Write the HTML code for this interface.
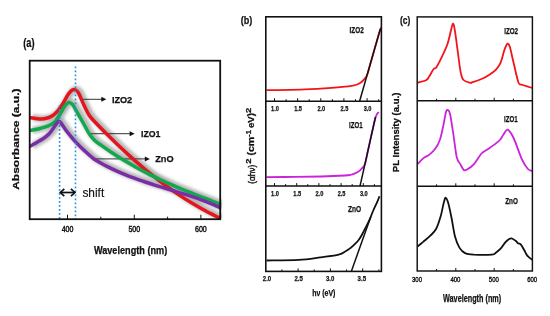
<!DOCTYPE html>
<html><head><meta charset="utf-8"><style>
html,body{margin:0;padding:0;background:#fff;}
body{width:550px;height:316px;overflow:hidden;}
svg{display:block;font-family:"Liberation Sans",sans-serif;}
text{opacity:0.999;}
</style></head><body>
<svg width="550" height="316" viewBox="0 0 550 316">
<rect width="550" height="316" fill="#fff"/>
<defs><filter id="sh" x="-20%" y="-20%" width="140%" height="140%"><feGaussianBlur stdDeviation="1.5"/></filter><clipPath id="ca"><rect x="29.7" y="60.7" width="190.5" height="158.3"/></clipPath></defs>
<g clip-path="url(#ca)" filter="url(#sh)" fill="none" stroke="#a8a8a8" stroke-opacity="0.8" stroke-width="7" stroke-linejoin="round" transform="translate(2,-0.3)">
<path d="M30.5,117.7 C32.2,117.9 37.7,119.0 40.7,119.0 C43.7,119.0 46.2,118.3 48.3,117.7 C50.4,117.1 51.6,116.5 53.3,115.2 C55.0,113.9 56.8,112.0 58.4,110.1 C60.0,108.1 61.5,106.0 63.0,103.5 C64.5,101.0 66.4,97.3 67.7,95.2 C69.0,93.1 70.0,92.0 71.0,91.0 C72.0,90.0 73.0,89.5 74.0,89.5 C75.0,89.5 76.2,90.3 77.0,91.0 C77.8,91.7 77.8,91.5 79.0,93.9 C80.2,96.3 82.3,101.7 84.0,105.2 C85.7,108.7 87.2,112.2 89.0,115.0 C90.8,117.8 92.0,118.8 95.0,122.0 C98.0,125.2 103.0,130.3 107.0,134.3 C111.0,138.3 115.0,142.2 119.0,146.0 C123.0,149.8 127.0,153.5 131.0,157.1 C135.0,160.7 139.0,164.2 143.0,167.6 C147.0,171.0 151.0,174.2 155.0,177.4 C159.0,180.6 163.0,183.6 167.0,186.5 C171.0,189.4 175.0,192.2 179.0,194.9 C183.0,197.6 187.0,200.2 191.0,202.6 C195.0,205.0 199.0,207.3 203.0,209.5 C207.0,211.7 212.1,214.2 215.0,215.7 C217.9,217.2 219.6,217.9 220.5,218.3"/>
<path d="M30.5,130.5 C31.9,130.2 36.8,129.4 39.1,128.8 C41.5,128.2 42.8,127.8 44.6,127.2 C46.4,126.6 48.3,125.9 50.1,125.0 C51.9,124.1 54.0,122.7 55.2,121.6 C56.4,120.5 56.6,119.7 57.5,118.3 C58.4,116.9 59.5,115.0 60.7,113.0 C61.9,111.0 63.4,108.1 64.5,106.4 C65.6,104.8 66.5,103.7 67.4,103.1 C68.3,102.5 68.9,102.4 69.8,102.6 C70.7,102.8 71.6,103.2 72.6,104.5 C73.6,105.8 74.7,108.2 75.9,110.2 C77.1,112.2 78.4,114.6 79.7,116.8 C81.0,119.0 82.4,121.5 83.5,123.5 C84.6,125.5 85.5,127.2 86.5,129.0 C87.5,130.8 88.4,132.6 89.7,134.5 C91.0,136.4 92.9,138.6 94.5,140.2 C96.1,141.8 98.3,143.3 99.2,144.0 C100.1,144.7 97.9,142.9 100.0,144.3 C102.1,145.8 108.0,150.0 112.0,152.7 C116.0,155.4 120.0,157.9 124.0,160.3 C128.0,162.7 132.0,165.0 136.0,167.2 C140.0,169.4 144.0,171.5 148.0,173.6 C152.0,175.7 156.0,177.6 160.0,179.5 C164.0,181.4 168.0,183.2 172.0,184.9 C176.0,186.7 180.0,188.3 184.0,190.0 C188.0,191.7 192.0,193.2 196.0,194.8 C200.0,196.4 203.9,197.9 208.0,199.5 C212.1,201.1 218.4,203.6 220.5,204.4"/>
<path d="M30.5,146.0 C31.2,145.6 33.2,144.6 34.6,143.8 C36.0,143.0 37.4,142.0 39.1,141.0 C40.8,140.0 42.8,139.1 44.6,137.7 C46.4,136.3 48.5,134.4 50.1,132.7 C51.7,130.9 52.8,128.9 54.0,127.2 C55.2,125.5 56.5,123.7 57.3,122.7 C58.1,121.7 58.4,121.3 59.0,121.3 C59.6,121.3 60.1,121.7 60.8,122.6 C61.5,123.5 62.2,124.9 63.4,126.6 C64.6,128.3 65.9,130.3 68.0,132.9 C70.1,135.5 73.2,139.3 75.8,142.2 C78.4,145.1 80.8,147.3 83.8,150.1 C86.8,152.9 90.3,156.4 94.0,159.0 C97.7,161.6 102.0,163.8 106.0,165.9 C110.0,168.0 114.0,169.9 118.0,171.7 C122.0,173.5 126.0,175.1 130.0,176.6 C134.0,178.1 138.0,179.5 142.0,180.9 C146.0,182.3 150.0,183.5 154.0,184.8 C158.0,186.1 162.0,187.3 166.0,188.5 C170.0,189.7 174.0,190.9 178.0,192.1 C182.0,193.3 186.0,194.6 190.0,195.9 C194.0,197.2 198.0,198.6 202.0,200.1 C206.0,201.6 210.9,203.6 214.0,204.9 C217.1,206.2 219.4,207.3 220.5,207.8"/>
</g>
<g stroke="#333" stroke-width="1">
<line x1="80.5" y1="99.3" x2="103" y2="99.3"/>
<line x1="88" y1="133.7" x2="131" y2="133.7"/>
<line x1="94" y1="158.9" x2="146" y2="158.9"/>
</g>
<g clip-path="url(#ca)" fill="none" stroke-width="3.5" stroke-linejoin="round" stroke-linecap="round">
<path stroke="#e5151d" d="M30.5,117.7 C32.2,117.9 37.7,119.0 40.7,119.0 C43.7,119.0 46.2,118.3 48.3,117.7 C50.4,117.1 51.6,116.5 53.3,115.2 C55.0,113.9 56.8,112.0 58.4,110.1 C60.0,108.1 61.5,106.0 63.0,103.5 C64.5,101.0 66.4,97.3 67.7,95.2 C69.0,93.1 70.0,92.0 71.0,91.0 C72.0,90.0 73.0,89.5 74.0,89.5 C75.0,89.5 76.2,90.3 77.0,91.0 C77.8,91.7 77.8,91.5 79.0,93.9 C80.2,96.3 82.3,101.7 84.0,105.2 C85.7,108.7 87.2,112.2 89.0,115.0 C90.8,117.8 92.0,118.8 95.0,122.0 C98.0,125.2 103.0,130.3 107.0,134.3 C111.0,138.3 115.0,142.2 119.0,146.0 C123.0,149.8 127.0,153.5 131.0,157.1 C135.0,160.7 139.0,164.2 143.0,167.6 C147.0,171.0 151.0,174.2 155.0,177.4 C159.0,180.6 163.0,183.6 167.0,186.5 C171.0,189.4 175.0,192.2 179.0,194.9 C183.0,197.6 187.0,200.2 191.0,202.6 C195.0,205.0 199.0,207.3 203.0,209.5 C207.0,211.7 212.1,214.2 215.0,215.7 C217.9,217.2 219.6,217.9 220.5,218.3"/>
<path stroke="#12a84e" d="M30.5,130.5 C31.9,130.2 36.8,129.4 39.1,128.8 C41.5,128.2 42.8,127.8 44.6,127.2 C46.4,126.6 48.3,125.9 50.1,125.0 C51.9,124.1 54.0,122.7 55.2,121.6 C56.4,120.5 56.6,119.7 57.5,118.3 C58.4,116.9 59.5,115.0 60.7,113.0 C61.9,111.0 63.4,108.1 64.5,106.4 C65.6,104.8 66.5,103.7 67.4,103.1 C68.3,102.5 68.9,102.4 69.8,102.6 C70.7,102.8 71.6,103.2 72.6,104.5 C73.6,105.8 74.7,108.2 75.9,110.2 C77.1,112.2 78.4,114.6 79.7,116.8 C81.0,119.0 82.4,121.5 83.5,123.5 C84.6,125.5 85.5,127.2 86.5,129.0 C87.5,130.8 88.4,132.6 89.7,134.5 C91.0,136.4 92.9,138.6 94.5,140.2 C96.1,141.8 98.3,143.3 99.2,144.0 C100.1,144.7 97.9,142.9 100.0,144.3 C102.1,145.8 108.0,150.0 112.0,152.7 C116.0,155.4 120.0,157.9 124.0,160.3 C128.0,162.7 132.0,165.0 136.0,167.2 C140.0,169.4 144.0,171.5 148.0,173.6 C152.0,175.7 156.0,177.6 160.0,179.5 C164.0,181.4 168.0,183.2 172.0,184.9 C176.0,186.7 180.0,188.3 184.0,190.0 C188.0,191.7 192.0,193.2 196.0,194.8 C200.0,196.4 203.9,197.9 208.0,199.5 C212.1,201.1 218.4,203.6 220.5,204.4"/>
<path stroke="#7a2ea6" d="M30.5,146.0 C31.2,145.6 33.2,144.6 34.6,143.8 C36.0,143.0 37.4,142.0 39.1,141.0 C40.8,140.0 42.8,139.1 44.6,137.7 C46.4,136.3 48.5,134.4 50.1,132.7 C51.7,130.9 52.8,128.9 54.0,127.2 C55.2,125.5 56.5,123.7 57.3,122.7 C58.1,121.7 58.4,121.3 59.0,121.3 C59.6,121.3 60.1,121.7 60.8,122.6 C61.5,123.5 62.2,124.9 63.4,126.6 C64.6,128.3 65.9,130.3 68.0,132.9 C70.1,135.5 73.2,139.3 75.8,142.2 C78.4,145.1 80.8,147.3 83.8,150.1 C86.8,152.9 90.3,156.4 94.0,159.0 C97.7,161.6 102.0,163.8 106.0,165.9 C110.0,168.0 114.0,169.9 118.0,171.7 C122.0,173.5 126.0,175.1 130.0,176.6 C134.0,178.1 138.0,179.5 142.0,180.9 C146.0,182.3 150.0,183.5 154.0,184.8 C158.0,186.1 162.0,187.3 166.0,188.5 C170.0,189.7 174.0,190.9 178.0,192.1 C182.0,193.3 186.0,194.6 190.0,195.9 C194.0,197.2 198.0,198.6 202.0,200.1 C206.0,201.6 210.9,203.6 214.0,204.9 C217.1,206.2 219.4,207.3 220.5,207.8"/>
</g>
<g stroke="#1f8fe0" stroke-width="1.6" stroke-dasharray="1.8 2.2">
<line x1="59.6" y1="105" x2="59.6" y2="219"/><line x1="75.5" y1="66.5" x2="75.5" y2="219"/>
</g>
<rect x="29.7" y="60.7" width="190.5" height="158.5" fill="none" stroke="#111" stroke-width="1.8"/>
<g stroke="#111" stroke-width="1">
<line x1="67.5" y1="219.2" x2="67.5" y2="214.7"/>
<line x1="100.8" y1="219.2" x2="100.8" y2="216.7"/>
<line x1="134.3" y1="219.2" x2="134.3" y2="214.7"/>
<line x1="167.6" y1="219.2" x2="167.6" y2="216.7"/>
<line x1="200.9" y1="219.2" x2="200.9" y2="214.7"/>
</g>
<g fill="#111">
<path d="M106.3,99.3 L101.3,96.8 L101.3,101.8Z"/>
<path d="M134.6,133.7 L129.6,131.2 L129.6,136.2Z"/>
<path d="M149.8,158.9 L144.8,156.4 L144.8,161.4Z"/>
</g>
<g stroke="#111" stroke-width="1.7" fill="none"><line x1="60.5" y1="192.5" x2="74.5" y2="192.5"/><path d="M64.3,188.8 L60.3,192.5 L64.3,196.2"/><path d="M70.9,188.8 L74.9,192.5 L70.9,196.2"/></g>
<g fill="#111" stroke="#111" stroke-width="0.25" style="font-family:'Liberation Sans',sans-serif">
<text x="111.9" y="102.6" font-size="9.9" font-weight="bold" text-anchor="start" textLength="20.3" lengthAdjust="spacingAndGlyphs" >IZO2</text>
<text x="141.0" y="136.6" font-size="9.5" font-weight="bold" text-anchor="start" textLength="19.5" lengthAdjust="spacingAndGlyphs" >IZO1</text>
<text x="155.2" y="161.9" font-size="9.7" font-weight="bold" text-anchor="start" textLength="18.4" lengthAdjust="spacingAndGlyphs" >ZnO</text>
<text x="82.4" y="196.5" font-size="13.5" font-weight="normal" text-anchor="start" textLength="21.8" lengthAdjust="spacingAndGlyphs" stroke-width="0.15">shift</text>
<text x="23.2" y="47.0" font-size="12.2" font-weight="bold" text-anchor="start" textLength="11.3" lengthAdjust="spacingAndGlyphs" >(a)</text>
<text x="67.6" y="231.8" font-size="8.6" font-weight="normal" text-anchor="middle" textLength="11.8" lengthAdjust="spacingAndGlyphs" stroke-width="0.45">400</text>
<text x="134.3" y="231.8" font-size="8.6" font-weight="normal" text-anchor="middle" textLength="11.8" lengthAdjust="spacingAndGlyphs" stroke-width="0.45">500</text>
<text x="200.9" y="231.8" font-size="8.6" font-weight="normal" text-anchor="middle" textLength="11.8" lengthAdjust="spacingAndGlyphs" stroke-width="0.45">600</text>
<text x="93.9" y="253.6" font-size="10.8" font-weight="bold" text-anchor="start" textLength="73.3" lengthAdjust="spacingAndGlyphs" >Wavelength (nm)</text>
<text transform="translate(19.2,189.8) rotate(-90)" font-size="8.6" font-weight="bold" textLength="101.3" lengthAdjust="spacingAndGlyphs">Absorbance (a.u.)</text>
</g>
<g fill="none" stroke-linejoin="round" stroke-width="1.8">
<path stroke="#f2141a" d="M266.5,90.2 C272.1,90.1 290.3,90.0 300.0,89.7 C309.7,89.4 317.1,88.9 324.6,88.4 C332.1,87.9 340.4,87.1 345.0,86.6 C349.6,86.1 350.5,85.9 352.5,85.6 C354.5,85.2 355.6,85.1 357.0,84.5 C358.4,83.9 360.1,83.0 361.2,82.2 C362.3,81.4 362.8,80.8 363.8,79.6 C364.8,78.4 366.1,77.4 367.1,75.0 C368.1,72.6 368.8,69.2 370.0,65.0 C371.2,60.8 372.9,55.0 374.3,50.0 C375.7,45.0 377.6,38.5 378.6,35.0 C379.7,31.5 380.2,30.3 380.6,29.0 C381.1,27.7 381.2,27.5 381.3,27.2"/>
<path stroke="#cc22dd" d="M266.5,177.2 C271.2,177.1 285.8,177.0 295.0,176.9 C304.2,176.8 313.2,176.7 321.5,176.5 C329.8,176.3 340.0,175.8 345.0,175.5 C350.0,175.2 349.7,174.9 351.4,174.6 C353.1,174.2 353.8,173.9 355.0,173.4 C356.2,172.9 357.4,172.3 358.5,171.6 C359.6,170.9 360.2,170.3 361.3,169.0 C362.4,167.7 363.9,167.2 365.0,164.0 C366.1,160.8 366.9,155.3 368.1,150.0 C369.3,144.7 370.9,137.2 372.1,132.0 C373.3,126.8 374.3,121.9 375.1,119.0 C375.9,116.1 376.2,115.7 376.8,114.5 C377.4,113.3 378.4,112.4 378.7,112.0"/>
<path stroke="#111" d="M266.5,260.5 C271.9,260.4 289.7,260.4 298.7,259.9 C307.7,259.4 313.8,258.2 320.5,257.3 C327.2,256.4 334.4,255.7 338.7,254.6 C342.9,253.5 344.0,252.1 346.0,251.0 C348.0,249.9 349.3,248.9 350.8,247.8 C352.3,246.7 353.5,245.5 354.8,244.2 C356.1,242.9 357.6,241.5 358.8,239.8 C360.0,238.1 361.1,236.2 362.2,234.2 C363.3,232.2 364.4,230.1 365.6,227.7 C366.8,225.3 368.3,222.5 369.6,219.6 C370.9,216.7 372.1,213.1 373.5,210.0 C374.9,206.9 376.7,203.1 377.7,200.8 C378.7,198.5 379.2,197.0 379.5,196.2"/>
</g>
<g stroke="#111" stroke-width="1.5">
<line x1="359.6" y1="101.2" x2="380.4" y2="28.6"/>
<line x1="360" y1="186.1" x2="375.5" y2="117"/>
<line x1="351.3" y1="271.4" x2="370.8" y2="216.8"/>
</g>
<rect x="265.8" y="16.8" width="115.6" height="254.6" fill="none" stroke="#111" stroke-width="1.6"/>
<line x1="265.8" y1="101.2" x2="381.4" y2="101.2" stroke="#111" stroke-width="1.5"/>
<line x1="265.8" y1="186.1" x2="381.4" y2="186.1" stroke="#111" stroke-width="1.5"/>
<g stroke="#111" stroke-width="1">
<line x1="274.5" y1="101.2" x2="274.5" y2="98.2"/>
<line x1="286.1" y1="101.2" x2="286.1" y2="99.2"/>
<line x1="297.6" y1="101.2" x2="297.6" y2="98.2"/>
<line x1="309.2" y1="101.2" x2="309.2" y2="99.2"/>
<line x1="320.8" y1="101.2" x2="320.8" y2="98.2"/>
<line x1="332.4" y1="101.2" x2="332.4" y2="99.2"/>
<line x1="343.9" y1="101.2" x2="343.9" y2="98.2"/>
<line x1="355.5" y1="101.2" x2="355.5" y2="99.2"/>
<line x1="367.1" y1="101.2" x2="367.1" y2="98.2"/>
<line x1="378.7" y1="101.2" x2="378.7" y2="99.2"/>
<line x1="274.5" y1="186.1" x2="274.5" y2="183.1"/>
<line x1="285.6" y1="186.1" x2="285.6" y2="184.1"/>
<line x1="296.7" y1="186.1" x2="296.7" y2="183.1"/>
<line x1="307.8" y1="186.1" x2="307.8" y2="184.1"/>
<line x1="318.9" y1="186.1" x2="318.9" y2="183.1"/>
<line x1="330.0" y1="186.1" x2="330.0" y2="184.1"/>
<line x1="341.1" y1="186.1" x2="341.1" y2="183.1"/>
<line x1="352.2" y1="186.1" x2="352.2" y2="184.1"/>
<line x1="363.3" y1="186.1" x2="363.3" y2="183.1"/>
<line x1="374.4" y1="186.1" x2="374.4" y2="184.1"/>
<line x1="281.9" y1="271.4" x2="281.9" y2="269.4"/>
<line x1="298.1" y1="271.4" x2="298.1" y2="268.4"/>
<line x1="314.2" y1="271.4" x2="314.2" y2="269.4"/>
<line x1="330.4" y1="271.4" x2="330.4" y2="268.4"/>
<line x1="346.6" y1="271.4" x2="346.6" y2="269.4"/>
<line x1="362.7" y1="271.4" x2="362.7" y2="268.4"/>
<line x1="378.9" y1="271.4" x2="378.9" y2="269.4"/>
</g>
<g fill="#111" stroke="#111" stroke-width="0.25" style="font-family:'Liberation Sans',sans-serif">
<text x="240.8" y="24.3" font-size="11.8" font-weight="bold" text-anchor="start" textLength="11.6" lengthAdjust="spacingAndGlyphs" >(b)</text>
<text x="275.0" y="110.6" font-size="7.2" font-weight="bold" text-anchor="middle" textLength="7.8" lengthAdjust="spacingAndGlyphs" >1.0</text>
<text x="275.0" y="195.6" font-size="7.2" font-weight="bold" text-anchor="middle" textLength="7.8" lengthAdjust="spacingAndGlyphs" >1.0</text>
<text x="298.1" y="110.6" font-size="7.2" font-weight="bold" text-anchor="middle" textLength="7.8" lengthAdjust="spacingAndGlyphs" >1.5</text>
<text x="297.2" y="195.6" font-size="7.2" font-weight="bold" text-anchor="middle" textLength="7.8" lengthAdjust="spacingAndGlyphs" >1.5</text>
<text x="321.3" y="110.6" font-size="7.2" font-weight="bold" text-anchor="middle" textLength="7.8" lengthAdjust="spacingAndGlyphs" >2.0</text>
<text x="319.4" y="195.6" font-size="7.2" font-weight="bold" text-anchor="middle" textLength="7.8" lengthAdjust="spacingAndGlyphs" >2.0</text>
<text x="344.4" y="110.6" font-size="7.2" font-weight="bold" text-anchor="middle" textLength="7.8" lengthAdjust="spacingAndGlyphs" >2.5</text>
<text x="341.6" y="195.6" font-size="7.2" font-weight="bold" text-anchor="middle" textLength="7.8" lengthAdjust="spacingAndGlyphs" >2.5</text>
<text x="367.6" y="110.6" font-size="7.2" font-weight="bold" text-anchor="middle" textLength="7.8" lengthAdjust="spacingAndGlyphs" >3.0</text>
<text x="363.8" y="195.6" font-size="7.2" font-weight="bold" text-anchor="middle" textLength="7.8" lengthAdjust="spacingAndGlyphs" >3.0</text>
<text x="267.0" y="281.0" font-size="7.6" font-weight="bold" text-anchor="middle" textLength="8.4" lengthAdjust="spacingAndGlyphs" >2.0</text>
<text x="298.6" y="281.0" font-size="7.6" font-weight="bold" text-anchor="middle" textLength="8.4" lengthAdjust="spacingAndGlyphs" >2.5</text>
<text x="330.2" y="281.0" font-size="7.6" font-weight="bold" text-anchor="middle" textLength="8.4" lengthAdjust="spacingAndGlyphs" >3.0</text>
<text x="361.8" y="281.0" font-size="7.6" font-weight="bold" text-anchor="middle" textLength="8.4" lengthAdjust="spacingAndGlyphs" >3.5</text>
<text x="349.5" y="33.3" font-size="8.8" font-weight="bold" text-anchor="start" textLength="14.2" lengthAdjust="spacingAndGlyphs" >IZO2</text>
<text x="349.0" y="128.4" font-size="8.8" font-weight="bold" text-anchor="start" textLength="13.6" lengthAdjust="spacingAndGlyphs" >IZO1</text>
<text x="348.0" y="212.0" font-size="8.8" font-weight="bold" text-anchor="start" textLength="13.2" lengthAdjust="spacingAndGlyphs" >ZnO</text>
<text x="312.2" y="295.5" font-size="8.8" font-weight="bold" textLength="23.2" lengthAdjust="spacingAndGlyphs">h&#957; (eV)</text>
<g transform="translate(254.3,183.8) rotate(-90)">
<text x="0" y="0.4" font-size="9" font-weight="normal" stroke-width="0.4" textLength="19" lengthAdjust="spacingAndGlyphs">(&#945;h&#957;)</text>
<text x="20" y="-3" font-size="7.8" font-weight="bold" textLength="5.3" lengthAdjust="spacingAndGlyphs">2</text>
<text x="28.2" y="0" font-size="8.6" font-weight="bold" textLength="18.8" lengthAdjust="spacingAndGlyphs">(cm</text>
<text x="46.9" y="-3.6" font-size="7" font-weight="bold" textLength="6.9" lengthAdjust="spacingAndGlyphs">-1</text>
<text x="55.8" y="0" font-size="8.6" font-weight="bold" textLength="15" lengthAdjust="spacingAndGlyphs">eV)</text>
<text x="70.9" y="-3" font-size="7.8" font-weight="bold" textLength="5.2" lengthAdjust="spacingAndGlyphs">2</text>
</g>
</g>
<g fill="none" stroke-linejoin="round" stroke-width="1.8">
<path stroke="#f2141a" d="M417.3,82.8 C418.8,82.3 424.4,81.1 426.4,80.0 C428.4,78.9 428.1,78.1 429.3,76.3 C430.5,74.5 432.3,70.7 433.5,69.2 C434.7,67.7 435.0,69.4 436.4,67.2 C437.8,65.0 440.2,60.2 442.1,56.3 C444.0,52.4 446.1,48.0 447.5,44.0 C448.9,40.0 449.7,35.5 450.6,32.1 C451.5,28.7 452.2,23.8 452.9,23.6 C453.6,23.4 454.1,26.0 454.9,30.7 C455.7,35.4 456.9,45.1 457.8,52.0 C458.8,58.9 459.7,67.3 460.6,72.0 C461.6,76.7 461.8,78.2 463.5,80.0 C465.2,81.8 469.2,82.4 470.6,82.8 C472.0,83.2 470.2,82.9 472.0,82.3 C473.8,81.7 478.7,80.2 481.5,79.0 C484.3,77.8 486.2,76.7 488.6,75.2 C491.0,73.7 493.8,72.0 495.8,69.9 C497.8,67.8 499.1,66.0 500.5,62.8 C501.9,59.6 503.1,53.9 504.1,50.9 C505.1,47.9 505.8,46.2 506.5,45.0 C507.2,43.8 507.5,43.4 508.1,43.8 C508.7,44.2 509.1,44.1 510.0,47.3 C510.9,50.5 512.2,57.0 513.6,62.8 C515.0,68.6 517.0,78.6 518.4,82.3 C519.8,86.0 520.1,83.9 521.9,84.7 C523.7,85.5 527.4,86.5 529.1,87.0 C530.8,87.5 531.7,87.7 532.2,87.8"/>
<path stroke="#cc22dd" d="M417.5,164.1 C418.5,163.1 421.5,159.7 423.5,158.1 C425.5,156.5 427.4,156.2 429.4,154.6 C431.4,153.0 433.6,151.2 435.4,148.6 C437.2,146.0 438.7,143.3 440.1,139.2 C441.5,135.0 442.7,128.2 443.7,123.7 C444.7,119.2 445.3,114.2 446.0,111.9 C446.7,109.6 447.2,109.6 447.9,110.0 C448.6,110.4 449.2,110.3 450.1,114.2 C451.0,118.1 452.1,126.1 453.2,133.2 C454.3,140.3 455.5,151.8 456.7,157.0 C457.9,162.2 459.1,161.9 460.3,164.1 C461.5,166.3 462.6,169.1 463.8,170.0 C465.0,170.9 465.7,170.3 467.4,169.3 C469.1,168.3 471.6,166.7 474.0,164.1 C476.4,161.5 479.1,156.1 481.5,153.5 C483.9,150.9 485.8,150.7 488.6,148.7 C491.4,146.7 496.2,143.2 498.2,141.6 C500.2,140.0 499.6,140.4 500.5,139.2 C501.4,138.0 502.3,136.1 503.5,134.5 C504.7,132.9 506.0,129.1 507.7,129.7 C509.4,130.3 511.2,133.1 513.6,138.0 C516.0,142.9 519.5,154.2 521.9,159.4 C524.3,164.6 526.2,167.1 527.9,169.0 C529.6,170.9 531.5,170.6 532.2,170.9"/>
<path stroke="#111" d="M417.5,246.5 C418.4,245.8 420.7,243.9 422.9,242.1 C425.1,240.2 428.4,237.6 430.6,235.4 C432.8,233.2 434.5,231.9 436.2,228.8 C437.9,225.7 439.3,221.0 440.6,216.6 C441.9,212.2 443.0,205.3 443.9,202.2 C444.8,199.1 445.0,197.6 445.7,197.8 C446.4,198.0 447.3,199.8 448.3,203.3 C449.3,206.8 450.6,213.3 451.7,218.8 C452.8,224.3 453.7,231.7 455.0,236.5 C456.3,241.3 457.7,244.8 459.4,247.6 C461.1,250.4 462.6,251.9 465.0,253.1 C467.4,254.3 469.5,254.4 474.0,254.7 C478.5,254.9 488.3,254.9 491.9,254.6 C495.5,254.3 494.4,253.7 495.8,252.7 C497.2,251.7 499.0,250.4 500.6,248.7 C502.2,247.0 504.0,243.9 505.3,242.4 C506.6,240.9 507.4,240.2 508.5,239.5 C509.6,238.8 510.4,238.2 511.6,238.4 C512.8,238.6 514.5,240.0 515.6,240.8 C516.7,241.6 517.1,242.5 518.0,243.2 C518.9,243.9 520.1,243.6 521.1,244.8 C522.1,246.0 523.2,248.5 524.3,250.3 C525.4,252.2 526.2,254.3 527.5,255.9 C528.8,257.5 531.4,259.2 532.2,259.8"/>
</g>
<rect x="417.2" y="16.9" width="115.2" height="254.1" fill="none" stroke="#111" stroke-width="1.45"/>
<line x1="417.2" y1="100.7" x2="532.4" y2="100.7" stroke="#111" stroke-width="1.5"/>
<line x1="417.2" y1="186.3" x2="532.4" y2="186.3" stroke="#111" stroke-width="1.5"/>
<g stroke="#111" stroke-width="1">
<line x1="436.6" y1="100.7" x2="436.6" y2="98.7"/>
<line x1="455.8" y1="100.7" x2="455.8" y2="97.7"/>
<line x1="475.0" y1="100.7" x2="475.0" y2="98.7"/>
<line x1="494.2" y1="100.7" x2="494.2" y2="97.7"/>
<line x1="513.4" y1="100.7" x2="513.4" y2="98.7"/>
<line x1="436.6" y1="186.3" x2="436.6" y2="184.3"/>
<line x1="455.8" y1="186.3" x2="455.8" y2="183.3"/>
<line x1="475.0" y1="186.3" x2="475.0" y2="184.3"/>
<line x1="494.2" y1="186.3" x2="494.2" y2="183.3"/>
<line x1="513.4" y1="186.3" x2="513.4" y2="184.3"/>
<line x1="436.6" y1="271.0" x2="436.6" y2="269.0"/>
<line x1="455.8" y1="271.0" x2="455.8" y2="268.0"/>
<line x1="475.0" y1="271.0" x2="475.0" y2="269.0"/>
<line x1="494.2" y1="271.0" x2="494.2" y2="268.0"/>
<line x1="513.4" y1="271.0" x2="513.4" y2="269.0"/>
</g>
<g fill="#111" stroke="#111" stroke-width="0.25" style="font-family:'Liberation Sans',sans-serif">
<text x="400.0" y="24.3" font-size="11.8" font-weight="bold" text-anchor="start" textLength="10.4" lengthAdjust="spacingAndGlyphs" >(c)</text>
<text x="504.2" y="33.5" font-size="8.8" font-weight="bold" text-anchor="start" textLength="13.9" lengthAdjust="spacingAndGlyphs" >IZO2</text>
<text x="504.0" y="121.6" font-size="8.8" font-weight="bold" text-anchor="start" textLength="13.6" lengthAdjust="spacingAndGlyphs" >IZO1</text>
<text x="505.2" y="204.2" font-size="8.8" font-weight="bold" text-anchor="start" textLength="12.7" lengthAdjust="spacingAndGlyphs" >ZnO</text>
<text x="417.0" y="281.5" font-size="8.0" font-weight="normal" text-anchor="middle" textLength="10.0" lengthAdjust="spacingAndGlyphs" stroke-width="0.4">300</text>
<text x="455.4" y="281.5" font-size="8.0" font-weight="normal" text-anchor="middle" textLength="10.0" lengthAdjust="spacingAndGlyphs" stroke-width="0.4">400</text>
<text x="493.8" y="281.5" font-size="8.0" font-weight="normal" text-anchor="middle" textLength="10.0" lengthAdjust="spacingAndGlyphs" stroke-width="0.4">500</text>
<text x="532.2" y="281.5" font-size="8.0" font-weight="normal" text-anchor="middle" textLength="10.0" lengthAdjust="spacingAndGlyphs" stroke-width="0.4">600</text>
<text x="443.0" y="301.8" font-size="10.0" font-weight="bold" text-anchor="start" textLength="58.2" lengthAdjust="spacingAndGlyphs" >Wavelength (nm)</text>
<text transform="translate(398.9,172.2) rotate(-90)" font-size="8.8" font-weight="bold" textLength="79.6" lengthAdjust="spacingAndGlyphs">PL Intensity (a.u.)</text>
</g>
</svg>
</body></html>
